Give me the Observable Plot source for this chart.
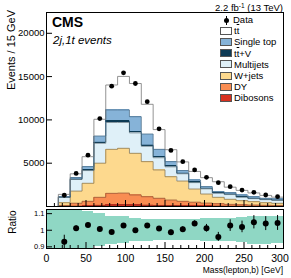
<!DOCTYPE html>
<html><head><meta charset="utf-8">
<script src="https://cdn.jsdelivr.net/npm/d3@7"></script>
<script src="https://cdn.jsdelivr.net/npm/@observablehq/plot@0.6"></script>
<style>
body{margin:0;background:#fff;}
#wrap{position:relative;width:291px;height:278px;font-family:"Liberation Sans",Arial,sans-serif;color:#000;overflow:hidden;}
#wrap svg{display:block;}
.lbl{position:absolute;white-space:nowrap;line-height:1;}
.leg{position:absolute;left:220px;height:11px;display:flex;align-items:center;font-size:9.5px;line-height:1;white-space:nowrap;}
.box{width:10px;height:6px;border:1px solid #555;margin-right:2px;flex:none;}
.ov{text-decoration:overline;}
</style></head><body><div id="wrap"></div>
<script>
// ---- data ----
const binLo = [15,30,45,60,75,90,105,120,135,150,165,180,195,210,225,240,255,270,285];
const binWidth = 15;
const dibosons  = [20,40,60,130,180,200,180,150,120,100,80,70,60,50,40,35,30,25,20];
const dy        = [100,340,540,930,1340,1350,1150,980,830,650,520,430,340,270,210,165,140,115,100];
const wjets     = [320,1400,2080,3940,5080,5170,4810,4050,3270,2690,2340,1520,1040,740,580,470,390,300,250];
const multijets = [620,1340,1470,2300,3100,2980,2360,1770,1410,1140,840,740,600,480,550,410,350,350,340];
const ttv       = [15,50,80,120,180,180,140,150,120,100,70,70,60,50,60,50,40,40,40];
const singletop = [55,170,370,720,1270,1270,1730,1270,850,500,300,230,190,120,160,200,180,120,120];
const ttbar     = [270,430,1150,1930,2880,3870,3830,3430,2280,1380,1000,990,1040,1150,630,530,435,330,210];
const dataCounts = [1300,3815,5930,10150,13890,15440,14200,12100,8970,6480,5180,4220,3370,2750,2290,1900,1640,1330,1130];
const ratio     = [0.93,1.012,1.032,1.008,0.99,1.028,1.0,1.028,1.01,0.988,1.006,1.04,1.012,0.96,1.028,1.02,1.048,1.04,1.044];
const ratioErr  = [0.04,0.015,0.012,0.01,0.01,0.01,0.01,0.01,0.012,0.014,0.015,0.017,0.023,0.027,0.035,0.035,0.04,0.042,0.045];
const bandLo    = [0,15,30,45,60,75,90,105,120,135,150,165,180,195,210,225,240,255,270,285];
const bandUnc   = [0.5,0.5,0.5,0.11,0.10,0.085,0.08,0.07,0.066,0.064,0.064,0.063,0.062,0.068,0.07,0.07,0.075,0.085,0.085,0.08];
const xMajor = [0,50,100,150,200,250,300];
const xLabelsInner = [0,50,100,150,200,250];
const xLabelLast = [300];
const xMinor = d3.range(0,301,10).filter(v => v % 50 !== 0);
const yTicks = [5000,10000,15000,20000];
const rTicks = [0.9,1,1.1];
const comps  = ["Dibosons","DY","W+jets","Multijets","ttV","Single top","tt"];
const colors = ["#d7301f","#f98d52","#fdd98e","#dff0f8","#0d3a54","#86b3d8","#ffffff"];
const lineColors = ["#8a2a1c","#9a5a38","#8c7a55","#6e7f88","#0d3a54","#4a6f8c","#777777"];
const series = [dibosons,dy,wjets,multijets,ttv,singletop,ttbar];

// ---- derived tables ----
const rects = [];
const tops = comps.map(() => []);
binLo.forEach((lo,i) => {
  let cum = 0;
  series.forEach((s,k) => {
    const y1 = cum; cum += s[i];
    rects.push({lo, hi: lo+binWidth, comp: comps[k], y1, y2: cum});
    tops[k].push(cum);
  });
});
const outlines = tops.map(t => {
  const pts = [{x: binLo[0], y: 0}];
  t.forEach((v,i) => pts.push({x: binLo[i], y: v}));
  pts.push({x: binLo[binLo.length-1]+binWidth, y: t[t.length-1]});
  pts.push({x: binLo[binLo.length-1]+binWidth, y: 0});
  return pts;
});
const pts = binLo.map((lo,i) => ({c: lo+binWidth/2, v: dataCounts[i], r: ratio[i], lo: ratio[i]-ratioErr[i], hi: ratio[i]+ratioErr[i]}));
const band = bandLo.map((lo,i) => ({lo, hi: lo+binWidth, a: 1-bandUnc[i], b: 1+bandUnc[i]}));

const W = 291, ML = 46, MR = 8;
const font = {fontFamily: "'Liberation Sans', Arial, sans-serif", background: "transparent", color: "#000"};

const mainH = 208, mainMT = 12, mainMB = 2;
const fH = mainH - mainMT - mainMB, fW = W - ML - MR;
const main = Plot.plot({
  width: W, height: mainH, marginTop: mainMT, marginBottom: mainMB, marginLeft: ML, marginRight: MR,
  x: {domain: [0,300], axis: null},
  y: {domain: [0,22400]},
  color: {domain: comps, range: colors},
  style: font,
  marks: [
    Plot.rect(rects, {x1: "lo", x2: "hi", y1: "y1", y2: "y2", fill: "comp", shapeRendering: "crispEdges"}),
    ...outlines.map((o,k) => Plot.line(o, {x: "x", y: "y", curve: "step-after", stroke: lineColors[k], strokeWidth: k===4 ? 0.6 : 0.8})),
    Plot.dot(pts, {x: "c", y: "v", r: 2.4, fill: "#000"}),
    Plot.ruleX(xMajor, {x: d => d, insetTop: fH-6, stroke: "#000"}),
    Plot.ruleX(xMinor, {x: d => d, insetTop: fH-3, stroke: "#000"}),
    Plot.ruleY(yTicks, {y: d => d, insetRight: fW-6, stroke: "#000"}),
    Plot.axisY({ticks: yTicks, tickSize: 0, tickPadding: 2, fontSize: 9.5, tickFormat: d3.format("d"), label: null}),
    Plot.frame({stroke: "#000"})
  ]
});

const rH = 70, rMT = 1, rMB = 30;
const rfH = rH - rMT - rMB;
const ratioPlot = Plot.plot({
  width: W, height: rH, marginTop: rMT, marginBottom: rMB, marginLeft: ML, marginRight: MR,
  x: {domain: [0,300]},
  y: {domain: [0.89,1.125]},
  style: font,
  marks: [
    Plot.rect(band, {x1: "lo", x2: "hi", y1: "a", y2: "b", fill: "#8fd7c4", clip: true, shapeRendering: "crispEdges"}),
    Plot.ruleX(pts, {x: "c", y1: "lo", y2: "hi", stroke: "#000", strokeWidth: 1}),
    Plot.dot(pts, {x: "c", y: "r", r: 3, fill: "#000"}),
    Plot.ruleX(xMajor, {x: d => d, insetTop: rfH-6, stroke: "#000"}),
    Plot.ruleX(xMinor, {x: d => d, insetTop: rfH-3, stroke: "#000"}),
    Plot.ruleY(rTicks, {y: d => d, insetRight: fW-6, stroke: "#000"}),
    Plot.axisX({ticks: xLabelsInner, tickSize: 0, tickPadding: 6, fontSize: 10.5, tickFormat: d3.format("d"), label: null}),
    Plot.axisX({ticks: xLabelLast, tickSize: 0, tickPadding: 6, fontSize: 10.5, tickFormat: d3.format("d"), label: null, dx: -3.5}),
    Plot.axisY({ticks: rTicks, tickSize: 0, tickPadding: 2, fontSize: 7.5, tickFormat: d => d === 1 ? "1" : String(d), label: null}),
    Plot.frame({stroke: "#000"})
  ]
});

const wrap = document.getElementById("wrap");
wrap.appendChild(main);
wrap.appendChild(ratioPlot);

function addLabel(html, style) {
  const d = document.createElement("div");
  d.className = "lbl";
  d.innerHTML = html;
  Object.assign(d.style, style);
  wrap.appendChild(d);
  return d;
}
addLabel("CMS", {left: "52px", top: "15px", fontSize: "14px", fontWeight: "bold"});
addLabel("2j,1t events", {left: "53px", top: "34.5px", fontSize: "11.5px", fontStyle: "italic"});
addLabel('2.2 fb<span style="font-size:6.5px;position:relative;top:-3.5px">-1</span> (13 TeV)', {right: "8px", top: "3px", fontSize: "9.5px"});
addLabel("Events / 15 GeV", {left: "0px", top: "0px", width: "120px", textAlign: "right", fontSize: "11px", transformOrigin: "0 0", transform: "translate(5.7px,130px) rotate(-90deg)"});
addLabel("Ratio", {left: "0px", top: "0px", width: "60px", textAlign: "center", fontSize: "10px", transformOrigin: "0 0", transform: "translate(7.5px,252px) rotate(-90deg)"});
addLabel("Mass(lepton,b) [GeV]", {right: "8px", top: "265.5px", fontSize: "8.5px"});

// legend
const legItems = [
  {label: "Data", data: true},
  {label: 't<span class="ov">t</span>', color: colors[6]},
  {label: "Single top", color: colors[5]},
  {label: 't<span class="ov">t</span>+V', color: colors[4]},
  {label: "Multijets", color: colors[3]},
  {label: "W+jets", color: colors[2]},
  {label: "DY", color: colors[1]},
  {label: "Dibosons", color: colors[0]}
];
legItems.forEach((it,i) => {
  const d = document.createElement("div");
  d.className = "leg";
  d.style.top = (14.5 + i*11.1) + "px";
  if (it.data) {
    d.innerHTML = '<div style="width:12px;height:11px;position:relative;flex:none;margin-right:1px">' +
      '<div style="position:absolute;left:5.5px;top:1px;width:1px;height:9px;background:#000"></div>' +
      '<div style="position:absolute;left:3.5px;top:3.5px;width:5px;height:5px;border-radius:50%;background:#000"></div></div>' +
      '<span>' + it.label + '</span>';
  } else {
    d.innerHTML = '<div class="box" style="background:' + it.color + '"></div><span>' + it.label + '</span>';
  }
  wrap.appendChild(d);
});
</script></body></html>
